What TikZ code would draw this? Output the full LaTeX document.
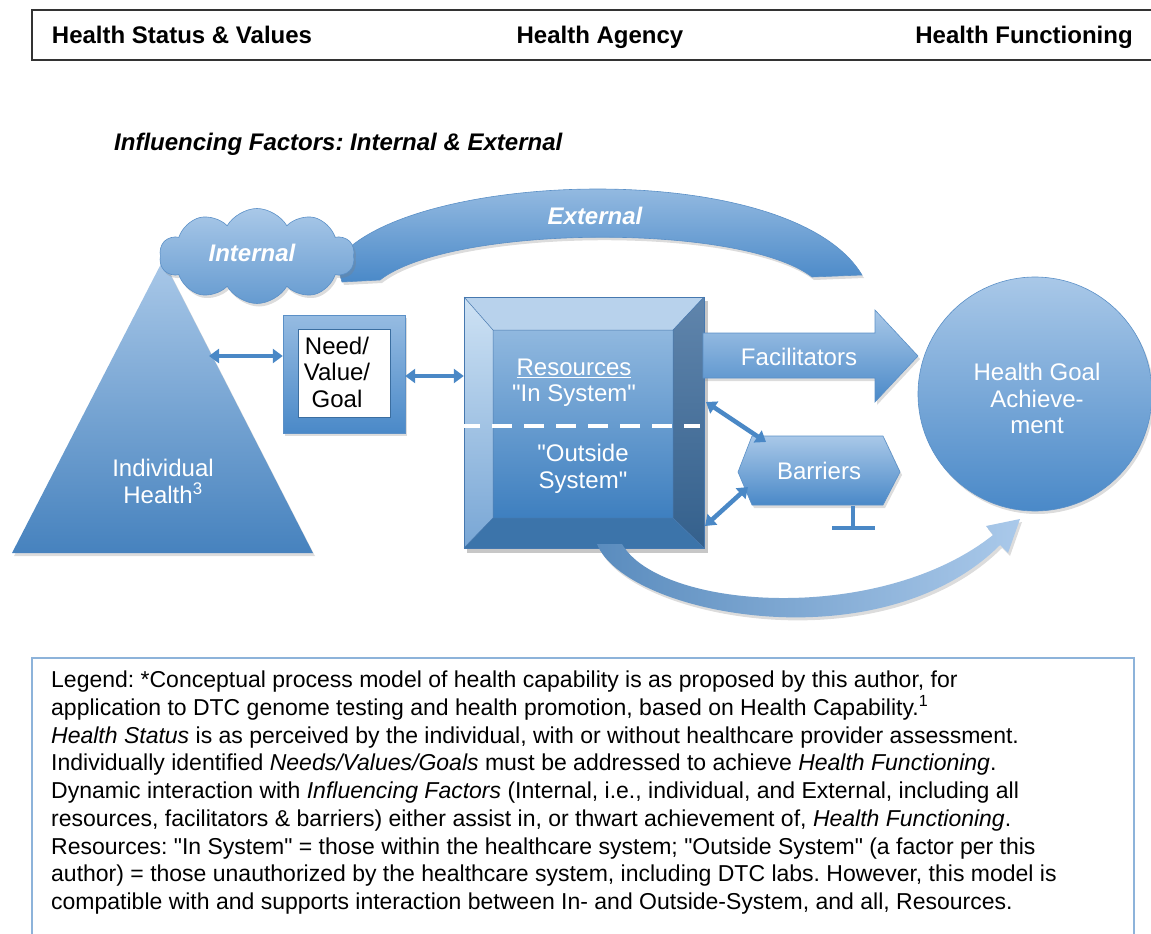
\documentclass[tikz,border=0pt]{standalone}
\usepackage{fontspec}
\setmainfont{Liberation Sans}
\usetikzlibrary{shapes.symbols,shapes.geometric,arrows.meta,shadows,calc}
\definecolor{cTop}{HTML}{A9C8E8}
\definecolor{cBot}{HTML}{4A89C8}
\definecolor{cEdge}{HTML}{5B90C7}
\definecolor{cArrow}{HTML}{4A88C6}
\definecolor{cLeg}{HTML}{8DB3DA}
\definecolor{fTop}{RGB}{144,184,223}
\definecolor{fBot}{RGB}{62,127,191}
\definecolor{bvTop}{RGB}{184,210,236}
\definecolor{bvLt}{RGB}{206,226,244}
\definecolor{bvLb}{RGB}{120,166,213}
\definecolor{bvRt}{RGB}{96,133,172}
\definecolor{bvRb}{RGB}{52,96,140}
\definecolor{bvBot}{RGB}{60,116,170}
\definecolor{bvEdge}{RGB}{70,120,175}
\definecolor{aL}{RGB}{90,140,190}
\definecolor{aR}{RGB}{170,201,234}
\newcommand\dq{\textquotedbl}
\frenchspacing
\begin{document}
\begin{tikzpicture}[x=1pt,y=-1pt]
\tikzset{
 hdr/.style={font=\bfseries\fontsize{24}{28}\selectfont, inner sep=0pt, anchor=base},
 wlbl/.style={text=white, font=\fontsize{24}{27}\selectfont, align=center, inner sep=0pt},
 ilbl/.style={text=white, font=\bfseries\itshape\fontsize{24}{27}\selectfont, inner sep=0pt},
 shad/.style={drop shadow={opacity=0.28, shadow xshift=2pt, shadow yshift=-3pt}},
 dbl/.style={{Triangle[width=14pt,length=10pt]}-{Triangle[width=14pt,length=10pt]}, line width=4.5pt, draw=cArrow},
}
\useasboundingbox (0,0) rectangle (1151,934);

% header
\draw[line width=2pt, draw=black!80] (32,10) rectangle (1170,60);
\node[hdr] (h1) at (182,44) {Health Status \& Values};
\node[hdr] (h2) at (600,44) {Health Agency};
\node[hdr] (h3) at (1024,44) {Health Functioning};

\node[anchor=base west, font=\bfseries\itshape\fontsize{24}{28}\selectfont, inner sep=0pt] (inf) at (114,150) {Influencing Factors: Internal \& External};

% external arc
\shade[top color=cTop!95!white, bottom color=cBot, draw=cEdge, line width=0.6pt, shad]
  (336,262) .. controls (400,170) and (790,155) .. (862,275) -- (812,277)
  .. controls (740,222) and (450,225) .. (380,280) -- (342,282) -- cycle;
\node[ilbl] (ext) at (595,216) {External};

% triangle
\shade[top color=cTop, bottom color=cBot!95!black, shad] (163,260) -- (313,553) -- (12,553) -- cycle;
\coordinate (triR) at (209,356);
\node[wlbl] (ih) at (163,481.5) {Individual\\Health\textsuperscript{3}};

% cloud
\node[cloud, cloud puffs=10, cloud puff arc=120, aspect=2.1, minimum width=195pt, minimum height=95pt,
  top color=cTop, bottom color=cBot!85!white, draw=cEdge, line width=0.6pt, shad] (int) at (257,256) {};
\node[ilbl] (intt) at (252,253) {Internal};

% need box
\node[rectangle, minimum width=122pt, minimum height=118pt, top color=cTop!80!cBot, bottom color=cBot, draw=cEdge, shad] (need) at (344,374) {};
\node[rectangle, fill=white, minimum width=92pt, minimum height=88pt, draw=cBot!80!black, line width=0.8pt] (needin) at (344,373.5) {};
\node[font=\fontsize{24}{26.5}\selectfont, align=center, inner sep=0pt] (needt) at (337,372) {Need/\\Value/\\Goal};

% resources bevel box
\node[minimum width=240pt, minimum height=251pt, inner sep=0pt] (res) at (584,422.5) {};
\fill[black, opacity=0.22] (467,301) rectangle (708,553);
\shade[top color=fTop, bottom color=fBot] (493,330) rectangle (673,518);
\fill[bvTop] (464,297) -- (704,297) -- (673,330) -- (493,330) -- cycle;
\shade[top color=bvLt, bottom color=bvLb] (464,297) -- (493,330) -- (493,518) -- (464,548) -- cycle;
\shade[top color=bvRt, bottom color=bvRb] (704,297) -- (704,548) -- (673,518) -- (673,330) -- cycle;
\fill[bvBot] (464,548) -- (704,548) -- (673,518) -- (493,518) -- cycle;
\draw[bvEdge, line width=0.6pt] (464,297) rectangle (704,548);
\draw[bvEdge, line width=0.5pt] (493,330) rectangle (673,518)
  (464,297) -- (493,330) (704,297) -- (673,330) (464,548) -- (493,518) (704,548) -- (673,518);
\node[wlbl] (rt1) at (574,368) {\underline{Resources}};
\node[wlbl] (rt2) at (574,396) {\dq In System\dq};
\node[wlbl] (rt3) at (583,468.5) {\dq Outside\\System\dq};
\draw[white, line width=4pt, dash pattern=on 20pt off 12pt] (460,426) -- (700,426);

% facilitators
\shade[top color=cTop, bottom color=cBot, draw=cEdge, line width=0.6pt, shad]
  (703,333) -- (875,333) -- (875,310) -- (918,356) -- (875,402) -- (875,378) -- (703,378) -- cycle;
\node[wlbl] (fac) at (799,357) {Facilitators};

% barriers
\shade[top color=cTop, bottom color=cBot, draw=cEdge, line width=0.6pt, shad]
  (738,472) -- (752,436) -- (883,436) -- (900,472) -- (883,505) -- (752,505) -- cycle;
\node[wlbl] (bar) at (819,471) {Barriers};
\coordinate (tbTop) at (853,506);
\coordinate (tbBot) at (853,528);
\draw[cArrow, line width=4pt] (tbTop) -- (tbBot);
\draw[cArrow, line width=4pt] ($(tbBot)+(-21,0)$) -- ($(tbBot)+(22,0)$);

% goal circle
\node[circle, minimum size=234pt, top color=cTop, bottom color=cBot, draw=cEdge, line width=0.6pt, shad] (goal) at (1035,394) {};
\node[wlbl, font=\fontsize{24}{26.5}\selectfont] (goalt) at (1037,398.5) {Health Goal\\Achieve-\\ment};

% bottom curved arrow
\shade[left color=aL, right color=aR, shad]
  (597,544) .. controls (625,615) and (880,665) .. (1000,545) -- (1008,553) -- (1020,519) -- (986,526)
  -- (993,535) .. controls (880,625) and (660,610) .. (622,544) -- cycle;

% double arrows
\coordinate (r1) at (706,402);
\coordinate (b1) at (766,442);
\coordinate (r2) at (705,526);
\coordinate (b2) at (748,487);
\draw[dbl] (triR) -- (need.west |- triR);
\draw[dbl] (need.east |- 0,376) -- (res.west |- 0,376);
\draw[dbl] (r1) -- (b1);
\draw[dbl] (r2) -- (b2);

% legend
\draw[draw=cLeg, line width=1.5pt] (32,658) rectangle (1134,960);
\node[anchor=north west, align=left, inner sep=0pt, font=\fontsize{23}{27.7}\selectfont] (leg) at (51,671) {%
Legend: *Conceptual process model of health capability is as proposed by this author, for\\
application to DTC genome testing and health promotion, based on Health Capability.\textsuperscript{1}\\
\textit{Health Status} is as perceived by the individual, with or without healthcare provider assessment.\\
Individually identified \textit{Needs/Values/Goals} must be addressed to achieve \textit{Health Functioning}.\\
Dynamic interaction with \textit{Influencing Factors} (Internal, i.e., individual, and External, including all\\
resources, facilitators \& barriers) either assist in, or thwart achievement of, \textit{Health Functioning}.\\
Resources: \dq In System\dq{} = those within the healthcare system; \dq Outside System\dq{} (a factor per this\\
author) = those unauthorized by the healthcare system, including DTC labs. However, this model is\\
compatible with and supports interaction between In- and Outside-System, and all, Resources.};
\end{tikzpicture}
\end{document}
